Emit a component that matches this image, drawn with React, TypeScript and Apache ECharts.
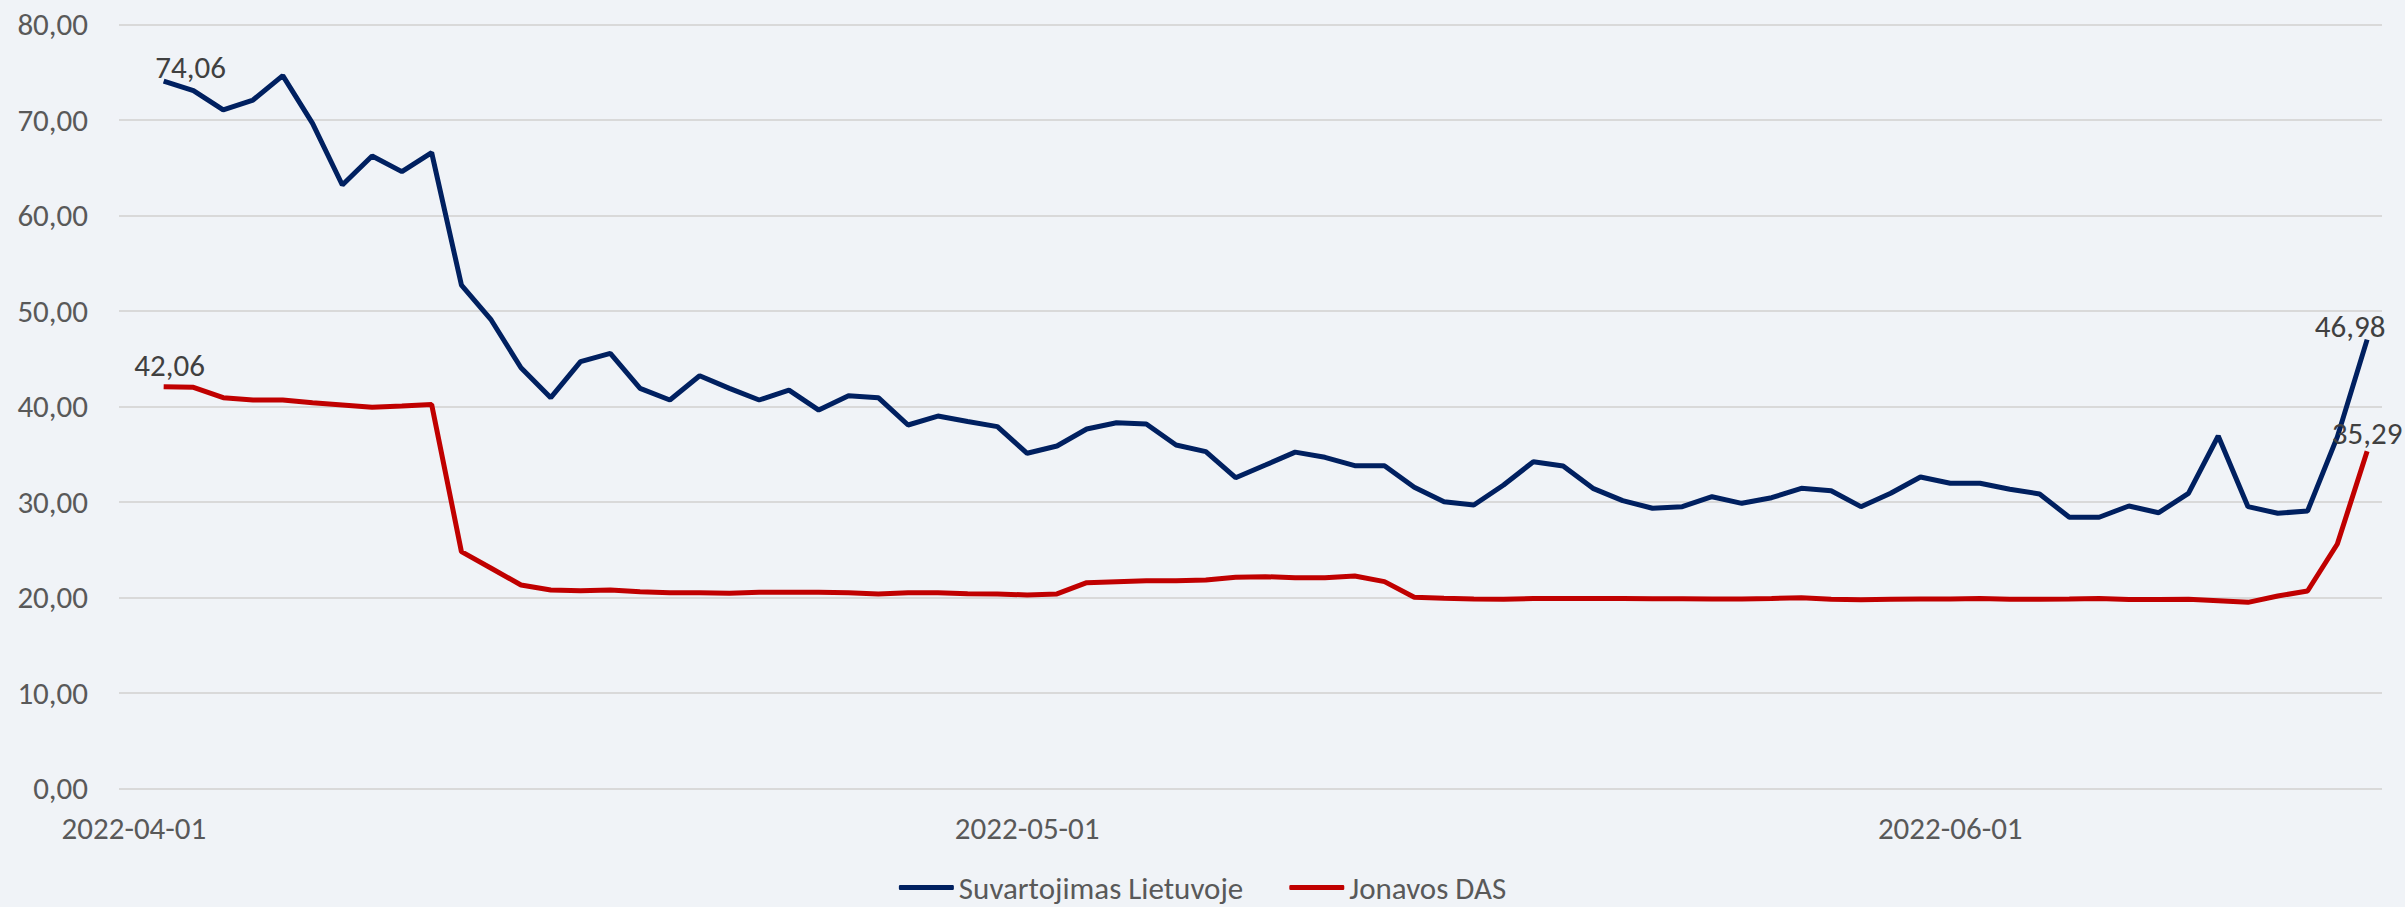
import React, { useEffect, useRef } from "react";
import * as echarts from "echarts";

const START_DATE = "2022-04-01";
const DAY_COUNT = 76;
const shownDates = ["2022-04-01", "2022-05-01", "2022-06-01"];

function buildDates(start: string, n: number): string[] {
  const out: string[] = [];
  const d = new Date(start + "T00:00:00Z");
  for (let i = 0; i < n; i++) {
    const c = new Date(d.getTime() + i * 86400000);
    out.push(c.toISOString().slice(0, 10));
  }
  return out;
}
const categories = buildDates(START_DATE, DAY_COUNT);

const seriesNames = ["Suvartojimas Lietuvoje", "Jonavos DAS"];

const suvartojimas: (number | null)[] = [
  null, 74.06, 73.05, 71.03, 72.07, 74.62, 69.63, 63.17, 66.21, 64.57,
  66.56, 52.7, 49.04, 44.04, 40.9, 44.67, 45.55, 41.88, 40.66, 43.2,
  41.88, 40.66, 41.7, 39.6, 41.1, 40.9, 38.04, 38.98, 38.4, 37.87,
  35.08, 35.84, 37.62, 38.28, 38.15, 35.95, 35.25, 32.52, 33.85, 35.2,
  34.66, 33.78, 33.78, 31.52, 30.01, 29.66, 31.76, 34.2, 33.75, 31.41,
  30.12, 29.32, 29.49, 30.53, 29.84, 30.43, 31.41, 31.16, 29.49, 30.89,
  32.6, 31.94, 31.94, 31.31, 30.82, 28.38, 28.38, 29.56, 28.86, 30.89,
  36.89, 29.49, 28.8, 29.04, 36.8, 46.98,
];

const jonavos: (number | null)[] = [
  null, 42.06, 41.99, 40.9, 40.66, 40.66, 40.38, 40.14, 39.9, 40.03,
  40.2, 24.78, 23.04, 21.29, 20.76, 20.69, 20.76, 20.59, 20.48, 20.48,
  20.42, 20.52, 20.52, 20.52, 20.48, 20.35, 20.48, 20.48, 20.38, 20.35,
  20.24, 20.35, 21.53, 21.64, 21.74, 21.74, 21.81, 22.09, 22.16, 22.05,
  22.05, 22.23, 21.64, 20.0, 19.9, 19.82, 19.8, 19.87, 19.87, 19.87,
  19.87, 19.85, 19.85, 19.82, 19.82, 19.87, 19.96, 19.8, 19.75, 19.8,
  19.82, 19.82, 19.87, 19.8, 19.8, 19.82, 19.87, 19.78, 19.78, 19.8,
  19.65, 19.47, 20.14, 20.66, 25.58, 35.29,
];

const FONT = "Carlito, Calibri, Lato, sans-serif";
const FS = 31;
const fmt = (v: number) => v.toFixed(2).replace(".", ",");

function withEndLabels(
  values: (number | null)[],
  firstOffset: number[],
  lastOffset: number[]
) {
  const first = values.findIndex((v) => v !== null);
  const last = values.length - 1;
  return values.map((v, i) => {
    if (v !== null && (i === first || i === last)) {
      return {
        value: v,
        label: {
          show: true,
          position: "top",
          distance: 0,
          offset: i === first ? firstOffset : lastOffset,
          formatter: (p: any) => fmt(p.value),
          color: "#404040",
          fontFamily: FONT,
          fontSize: FS,
          lineHeight: FS,
        },
      };
    }
    return v;
  });
}

export default function App() {
  const ref = useRef<HTMLDivElement>(null);
  useEffect(() => {
    document.body.style.margin = "0";
    const chart = echarts.init(ref.current!, undefined, { renderer: "svg" });
    chart.setOption({
      animation: false,
      backgroundColor: "#F0F3F7",
      grid: { left: 119, right: 23, top: 24.3, bottom: 118.7, containLabel: false },
      legend: {
        left: "center",
        top: 867,
        itemWidth: 55,
        itemHeight: 5,
        itemGap: 46,
        icon: "roundRect",
        textStyle: { color: "#595959", fontFamily: FONT, fontSize: FS, lineHeight: FS },
        data: seriesNames,
      },
      xAxis: {
        type: "category",
        data: categories,
        boundaryGap: true,
        axisLine: { show: false },
        axisTick: { show: false },
        axisLabel: {
          interval: (idx: number, val: string) => shownDates.includes(val),
          color: "#595959",
          fontFamily: FONT,
          fontSize: FS,
          margin: 24,
          hideOverlap: false,
        },
        splitLine: { show: false },
      },
      yAxis: {
        type: "value",
        min: 0,
        max: 80,
        interval: 10,
        axisLine: { show: false },
        axisTick: { show: false },
        axisLabel: {
          formatter: (v: number) => fmt(v),
          color: "#595959",
          fontFamily: FONT,
          fontSize: FS,
          margin: 31,
        },
        splitLine: { lineStyle: { color: "#D9D9D9", width: 2 } },
      },
      series: [
        {
          name: seriesNames[0],
          type: "line",
          data: withEndLabels(suvartojimas, [27, 1], [-17, 1.5]),
          showSymbol: true,
          symbol: "circle",
          symbolSize: 0.01,
          lineStyle: { color: "#002060", width: 5 },
          itemStyle: { color: "#002060" },
          connectNulls: false,
        },
        {
          name: seriesNames[1],
          type: "line",
          data: withEndLabels(jonavos, [6, -6], [0, -3]),
          showSymbol: true,
          symbol: "circle",
          symbolSize: 0.01,
          lineStyle: { color: "#C00000", width: 5 },
          itemStyle: { color: "#C00000" },
          connectNulls: false,
        },
      ],
    });
    return () => chart.dispose();
  }, []);
  return <div ref={ref} style={{ width: 2405, height: 907 }} />;
}
